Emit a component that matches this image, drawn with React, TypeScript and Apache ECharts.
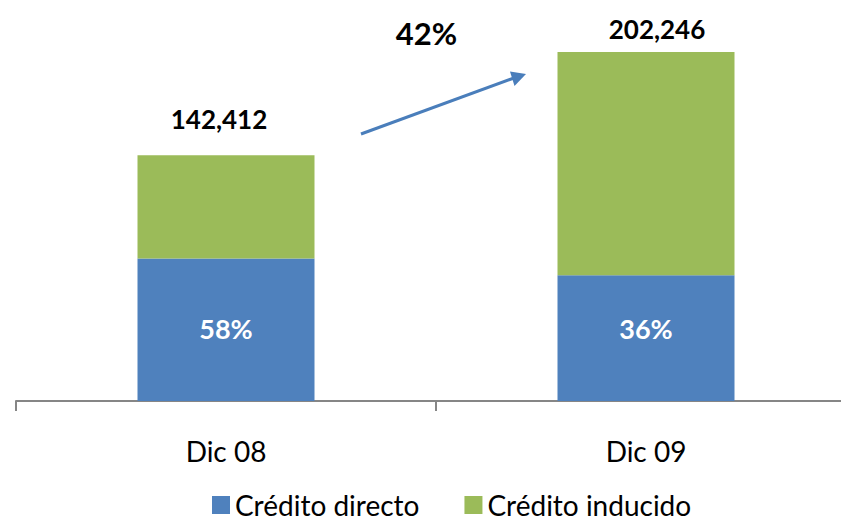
import React, { useEffect, useRef } from "react";
import * as echarts from "echarts";

const categories = ["Dic 08", "Dic 09"];
const creditoDirecto = [82599, 72809];
const creditoInducido = [59813, 129437];
const totals = [142412, 202246];
const shares = ["58%", "36%"];
const growthLabel = "42%";
const seriesNames = ["Crédito directo", "Crédito inducido"];

const FONT = "Lato, 'Open Sans', sans-serif";
const BLUE = "#4F81BD";
const GREEN = "#9BBB59";

export default function App() {
  const ref = useRef<HTMLDivElement>(null);
  useEffect(() => {
    if (!ref.current) return;
    const chart = echarts.init(ref.current, undefined, { renderer: "svg" });
    const fmt = (n: number) => n.toLocaleString("en-US");
    const totalOffsets = [
      [-7, -23],
      [11, -10],
    ];
    const shareOffsets = [
      [0, -1],
      [0, -10],
    ];
    chart.setOption({
      animation: false,
      backgroundColor: "#ffffff",
      textStyle: { fontFamily: FONT },
      grid: {
        left: 16,
        right: -15,
        top: 4,
        bottom: 121,
        containLabel: false,
        outerBoundsMode: "none",
      },
      xAxis: {
        type: "category",
        data: categories,
        axisLine: { lineStyle: { color: "#868686", width: 2 } },
        axisTick: { show: true, length: 10, lineStyle: { color: "#868686", width: 2 } },
        axisLabel: { color: "#000", fontSize: 28, fontFamily: FONT, margin: 36 },
      },
      yAxis: {
        type: "value",
        min: 0,
        max: 230000,
        show: false,
        splitLine: { show: false },
      },
      legend: {
        data: seriesNames,
        left: 207,
        top: 486,
        icon: "rect",
        itemWidth: 18,
        itemHeight: 18,
        itemGap: 45,
        textStyle: { fontSize: 28, color: "#000", fontFamily: FONT },
      },
      series: [
        {
          name: seriesNames[0],
          type: "bar",
          stack: "total",
          barWidth: 177,
          itemStyle: { color: BLUE },
          data: creditoDirecto.map((v, i) => ({
            value: v,
            label: { offset: shareOffsets[i] },
          })),
          label: {
            show: true,
            position: "inside",
            color: "#fff",
            fontWeight: "bold",
            fontSize: 27,
            fontFamily: FONT,
            formatter: (p: any) => shares[p.dataIndex],
          },
        },
        {
          name: seriesNames[1],
          type: "bar",
          stack: "total",
          barWidth: 177,
          itemStyle: { color: GREEN },
          data: creditoInducido.map((v, i) => ({
            value: v,
            label: { offset: totalOffsets[i] },
          })),
          label: {
            show: true,
            position: "top",
            distance: 0,
            color: "#000",
            fontWeight: "bold",
            fontSize: 26,
            fontFamily: FONT,
            formatter: (p: any) => fmt(totals[p.dataIndex]),
          },
        },
      ],
      graphic: [
        {
          type: "line",
          shape: { x1: 361, y1: 134, x2: 514, y2: 78 },
          style: { stroke: "#4A7EBB", lineWidth: 3 },
        },
        {
          type: "polygon",
          shape: { points: [[526, 74], [510, 71.5], [514.5, 86]] },
          style: { fill: "#4A7EBB" },
        },
        {
          type: "text",
          x: 426.5,
          y: 32.5,
          style: {
            text: growthLabel,
            fontSize: 31,
            fontWeight: "bold",
            fontFamily: FONT,
            fill: "#000",
            align: "center",
            verticalAlign: "middle",
          },
        },
      ],
    });
    return () => chart.dispose();
  }, []);
  return (
    <div
      ref={ref}
      style={{ position: "fixed", left: 0, top: 0, width: 841, height: 522 }}
    />
  );
}
